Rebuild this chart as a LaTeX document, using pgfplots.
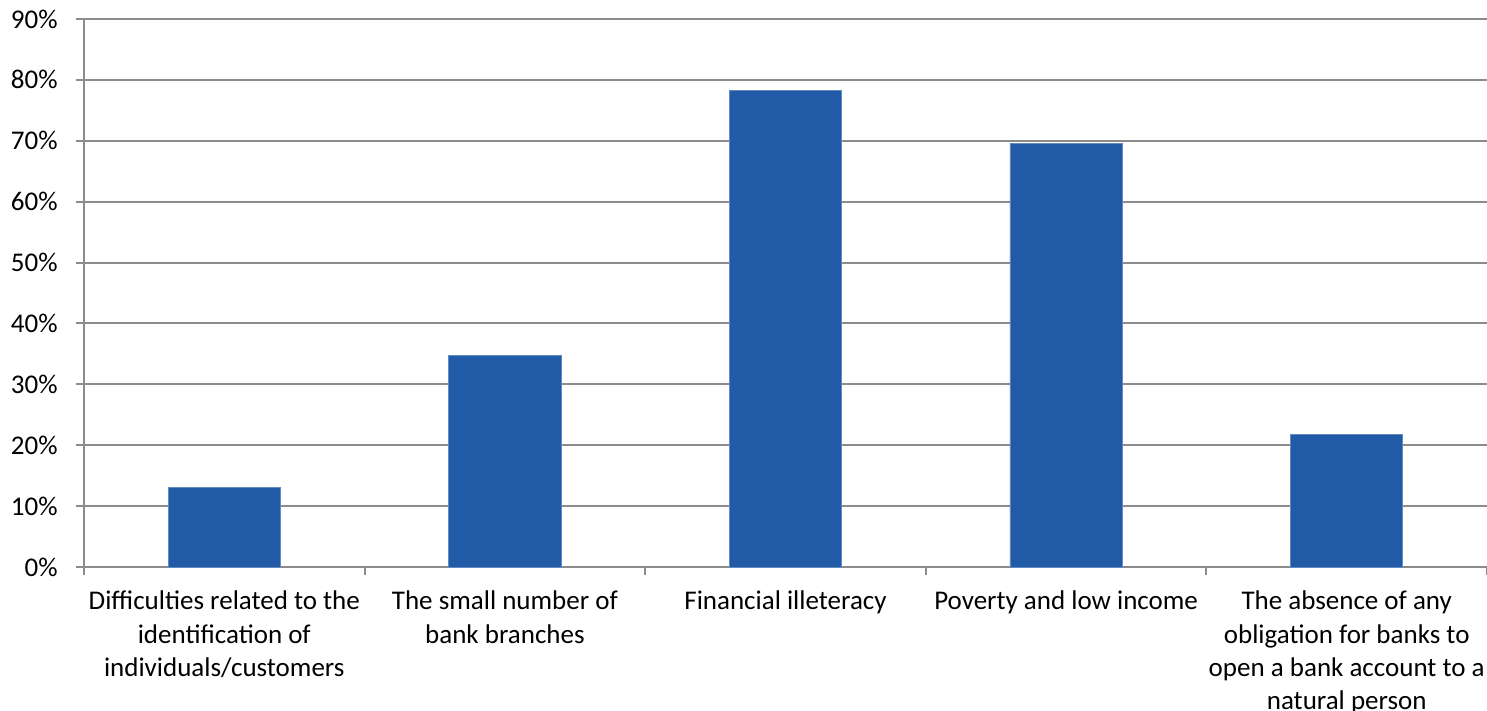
\documentclass[border=0pt]{standalone}
\usepackage{pgfplots}
\pgfplotsset{compat=1.18}
\usepackage{fontspec}
\setmainfont{Carlito}
\definecolor{barblue}{HTML}{215AA6}
\definecolor{gridgray}{HTML}{8C8C8C}
\begin{document}
\begin{tikzpicture}
\begin{axis}[
  name=ax,
  scale only axis,
  width=701.5pt, height=274pt,
  xmin=-0.5, xmax=4.5,
  ymin=0, ymax=90,
  axis x line*=bottom, axis y line*=left,
  axis line style={gridgray, line width=1pt, -},
  ytick={0,10,...,90},
  yticklabels={0\%,10\%,20\%,30\%,40\%,50\%,60\%,70\%,80\%,90\%},
  ymajorgrids,
  major grid style={gridgray, line width=1pt},
  tick align=outside,
  major tick length=4pt, minor tick length=4pt,
  ytick style={gridgray, line width=1pt},
  xtick={0,1,2,3,4},
  minor xtick={-0.5,0.5,1.5,2.5,3.5,4.5},
  major x tick style={draw=none},
  minor x tick style={gridgray, line width=1pt},
  xticklabels={
    {Difficulties related to the\\identification of\\individuals/customers},
    {The small number of\\bank branches},
    {Financial illeteracy},
    {Poverty and low income},
    {The absence of any\\obligation for banks to\\open a bank account to a\\natural person}},
  xticklabel style={align=center, font=\fontsize{13.5}{16.6}\selectfont, anchor=north, yshift=-4.5pt},
  yticklabel style={font=\fontsize{13.5}{16.5}\selectfont, anchor=east, inner sep=0pt, xshift=-9pt},
  ybar, bar width=0.4,
  clip=false,
]
\addplot[fill=barblue, draw=barblue!70!white, line width=0.4pt] coordinates {
  (0,13.0) (1,34.8) (2,78.2) (3,69.5) (4,21.7)
};
\end{axis}
\pgfresetboundingbox
\path ([xshift=-42pt,yshift=-72pt]ax.south west) rectangle ([yshift=9.5pt]ax.north east);
\end{tikzpicture}
\end{document}
